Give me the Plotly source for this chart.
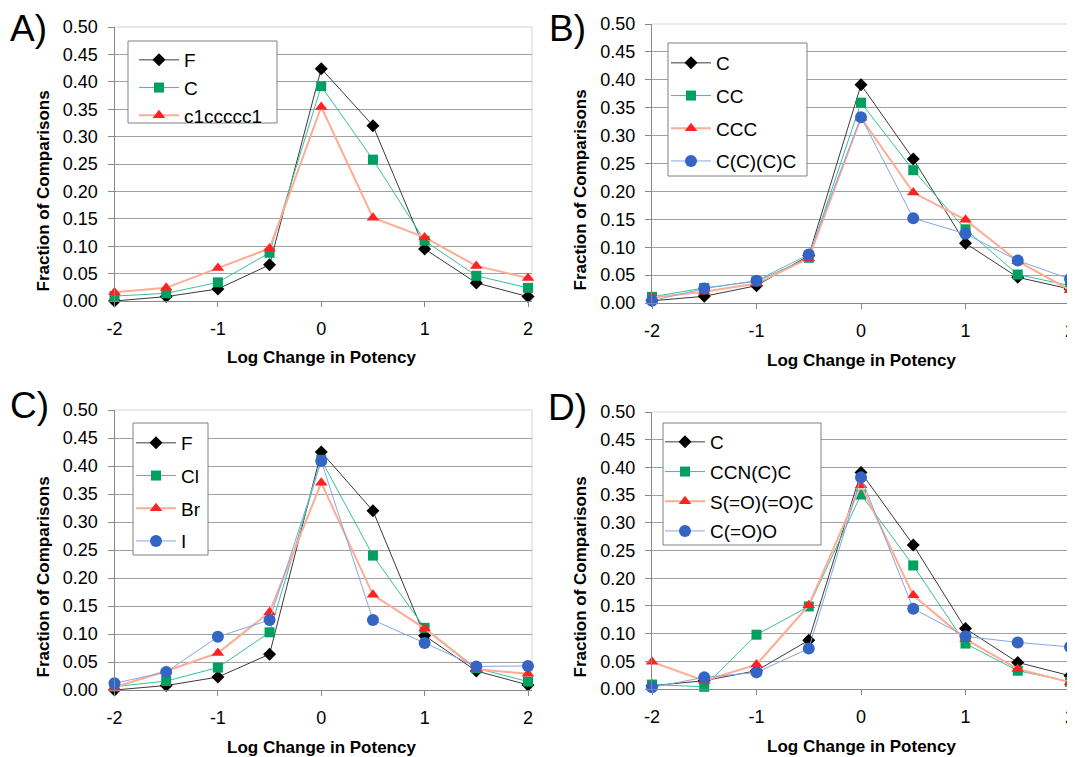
import plotly.graph_objects as go

x_vals = [-2, -1.5, -1, -0.5, 0, 0.5, 1, 1.5, 2]
x_ticks = [-2, -1, 0, 1, 2]

# Panel A
a_names = ["F", "C", "c1ccccc1"]
a_F = [0.000, 0.008, 0.022, 0.066, 0.424, 0.320, 0.095, 0.033, 0.008]
a_C = [0.009, 0.014, 0.034, 0.088, 0.392, 0.258, 0.110, 0.046, 0.024]
a_ring = [0.016, 0.024, 0.060, 0.096, 0.354, 0.152, 0.116, 0.064, 0.042]

# Panel B
b_names = ["C", "CC", "CCC", "C(C)(C)C"]
b_C = [0.004, 0.012, 0.031, 0.085, 0.391, 0.258, 0.107, 0.046, 0.025]
b_CC = [0.011, 0.027, 0.039, 0.081, 0.359, 0.238, 0.132, 0.051, 0.031]
b_CCC = [0.010, 0.020, 0.035, 0.080, 0.332, 0.198, 0.149, 0.075, 0.023]
b_CCCC = [0.004, 0.026, 0.040, 0.087, 0.333, 0.152, 0.124, 0.076, 0.043]

# Panel C
c_names = ["F", "Cl", "Br", "I"]
c_F = [0.000, 0.008, 0.023, 0.064, 0.425, 0.320, 0.097, 0.034, 0.009]
c_Cl = [0.006, 0.016, 0.040, 0.103, 0.411, 0.240, 0.111, 0.039, 0.015]
c_Br = [0.005, 0.034, 0.066, 0.139, 0.370, 0.170, 0.110, 0.037, 0.029]
c_I = [0.012, 0.032, 0.095, 0.125, 0.409, 0.125, 0.084, 0.042, 0.043]

# Panel D
d_names = ["C", "CCN(C)C", "S(=O)(=O)C", "C(=O)O"]
d_C = [0.006, 0.015, 0.033, 0.088, 0.391, 0.260, 0.109, 0.048, 0.024]
d_N = [0.008, 0.004, 0.098, 0.149, 0.351, 0.223, 0.082, 0.033, 0.013]
d_S = [0.049, 0.015, 0.044, 0.151, 0.368, 0.169, 0.090, 0.036, 0.012]
d_O = [0.003, 0.021, 0.030, 0.073, 0.382, 0.145, 0.095, 0.084, 0.076]

y_ticks = [0, 0.05, 0.10, 0.15, 0.20, 0.25, 0.30, 0.35, 0.40, 0.45, 0.50]

FONT = "Liberation Sans, Arial, sans-serif"
W, H = 1075, 757
OFF = 8  # the page body margin shifts the figure by this many pixels


def px(p):
    return (p - OFF) / W


def py(p):
    return 1 - (p - OFF) / H


styles = [
    dict(marker=dict(symbol="diamond", size=10, color="#000000"), line=dict(color="#3a3a3a", width=1)),
    dict(marker=dict(symbol="square", size=10, color="#00a060"), line=dict(color="#35c0a0", width=1)),
    dict(marker=dict(symbol="triangle-up", size=11, color="#ff2222"), line=dict(color="#ffac94", width=2)),
    dict(marker=dict(symbol="circle", size=12, color="#3464c4"), line=dict(color="#86a6e4", width=1)),
]

panels = [
    # names, series, x px (-2, 2, right edge), y px (top, bottom),
    # legend box (left, top, right, bottom), first item centre y, text start x, group gap, letter, letter pos
    (a_names, [a_F, a_C, a_ring], (114.5, 528, 532), (27, 301),
     (128, 41, 277, 123), 58, 187, 0, "A)", (28, 28)),
    (b_names, [b_C, b_CC, b_CCC, b_CCCC], (652, 1070, 1073), (24, 303),
     (668, 43, 807, 176), 61, 719, 5, "B)", (567, 28)),
    (c_names, [c_F, c_Cl, c_Br, c_I], (114.5, 528, 532), (410, 690),
     (133, 423, 208, 555), 441, 184, 5, "C)", (30, 406)),
    (d_names, [d_C, d_N, d_S, d_O], (652, 1070, 1073), (412, 689),
     (663, 423, 821, 545), 440, 713, 2, "D)", (567, 407)),
]

fig = go.Figure()
annotations = []
shapes = []
layout = {}

for i, (names, series, xp, yp, box, item0, text_x, gap, letter, lp) in enumerate(panels):
    k = "" if i == 0 else str(i + 1)
    legname = "legend" if i == 0 else f"legend{i + 1}"
    x_left, x_two, x_right = xp
    ppu = (x_two - x_left) / 4.0
    x_max = -2 + (x_right - x_left) / ppu
    for j, (nm, vals) in enumerate(zip(names, series)):
        st = styles[j]
        fig.add_trace(go.Scatter(
            x=x_vals, y=vals, name=nm, mode="lines+markers",
            marker=st["marker"], line=st["line"],
            xaxis="x" + k, yaxis="y" + k, legend=legname,
            legendgroup=f"p{i}s{j}", cliponaxis=False,
        ))
    layout["xaxis" + k] = dict(
        domain=[px(x_left), px(x_right)], range=[-2, x_max], anchor="y" + k,
        tickvals=x_ticks, ticktext=[str(t) for t in x_ticks],
        ticks="outside", ticklen=5, tickcolor="#888888",
        showline=True, linecolor="#888888", linewidth=1,
        showgrid=False, zeroline=False, automargin=False,
        tickfont=dict(family=FONT, size=18, color="#000000"),
        ticklabelstandoff=6,
    )
    layout["yaxis" + k] = dict(
        domain=[py(yp[1]), py(yp[0])], range=[0, 0.5], anchor="x" + k,
        tickvals=y_ticks, ticktext=[f"{v:.2f}" for v in y_ticks],
        ticks="outside", ticklen=6, tickcolor="#888888",
        showline=True, linecolor="#888888", linewidth=1,
        showgrid=True, gridcolor="#a0a0a0", gridwidth=1, zeroline=False,
        automargin=False,
        tickfont=dict(family=FONT, size=18, color="#000000"),
        ticklabelstandoff=6,
    )
    layout[legname] = dict(
        x=px(text_x - 53), y=py(item0 - 17), xanchor="left", yanchor="top",
        bgcolor="rgba(0,0,0,0)", borderwidth=0,
        font=dict(family=FONT, size=19, color="#000000"),
        itemwidth=40, traceorder="grouped", tracegroupgap=gap,
    )
    # legend frame
    shapes.append(dict(type="rect", xref="paper", yref="paper", layer="above",
                       x0=px(box[0]), x1=px(box[2]), y0=py(box[3]), y1=py(box[1]),
                       fillcolor="#ffffff", line=dict(color="#808080", width=1)))
    # light plot-area border (top and right)
    shapes.append(dict(type="line", xref=f"x{k} domain", yref=f"y{k} domain", layer="below",
                       x0=0, x1=1, y0=1, y1=1, line=dict(color="#d4d4d4", width=1)))
    shapes.append(dict(type="line", xref=f"x{k} domain", yref=f"y{k} domain", layer="below",
                       x0=1, x1=1, y0=0, y1=1, line=dict(color="#d4d4d4", width=1)))
    # panel letter
    annotations.append(dict(text=letter, x=px(lp[0]), y=py(lp[1]), xref="paper", yref="paper",
                            showarrow=False, xanchor="center", yanchor="middle",
                            font=dict(family=FONT, size=37, color="#000000")))
    # axis titles
    x_center = (x_left + x_two) / 2.0
    annotations.append(dict(text="Log Change in Potency", x=px(x_center), y=py(yp[1] + 57),
                            xref="paper", yref="paper", showarrow=False,
                            xanchor="center", yanchor="middle",
                            font=dict(family=FONT, size=17, color="#000000", weight="bold")))
    annotations.append(dict(text="Fraction of Comparisons", x=px(x_left - 72),
                            y=py((yp[0] + yp[1]) / 2.0 + 27),
                            xref="paper", yref="paper", showarrow=False, textangle=-90,
                            xanchor="center", yanchor="middle",
                            font=dict(family=FONT, size=17, color="#000000", weight="bold")))

fig.update_layout(
    width=W, height=H, margin=dict(l=0, r=0, t=0, b=0, pad=0, autoexpand=False),
    paper_bgcolor="#ffffff", plot_bgcolor="#ffffff",
    font=dict(family=FONT, color="#000000"),
    annotations=annotations, shapes=shapes, **layout,
)

fig.write_html("out.html")
